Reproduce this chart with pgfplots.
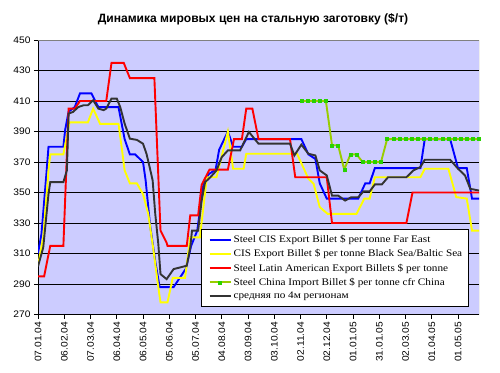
\documentclass[border=0pt]{standalone}
\usepackage{fontspec}
\setmainfont{Liberation Serif}
\setsansfont{Liberation Sans}
\newfontfamily\legfont[FakeStretch=1.12]{Liberation Serif}
\newfontfamily\tickfont[FakeStretch=1.08]{Liberation Sans}
\newfontfamily\titlefont{Liberation Sans}
\usepackage{pgfplots}
\pgfplotsset{compat=1.18}
\pgfplotsset{markline legend/.style={legend image code/.code={\path (-2.5bp,0bp); \draw[##1] (0bp,0bp) -- (21bp,0bp); \draw[##1] plot coordinates {(10.5bp,0bp)};}}}
\definecolor{plotbg}{RGB}{204,204,255}
\definecolor{cisblue}{RGB}{0,0,255}
\definecolor{cisyellow}{RGB}{255,255,0}
\definecolor{latred}{RGB}{255,0,0}
\definecolor{chgreen}{RGB}{153,204,0}
\definecolor{chmark}{RGB}{40,210,0}
\definecolor{avggray}{RGB}{51,51,51}
\begin{document}
\begin{tikzpicture}[x=1bp,y=1bp]
\path (0,0) rectangle (500,372);
\node[font=\titlefont\bfseries\fontsize{12.1}{14}\selectfont, anchor=base] at (253,349.5) {Динамика мировых цен на стальную заготовку (\$/т)};
\begin{axis}[
  at={(38bp,57.5bp)}, anchor=south west,
  scale only axis, width=441bp, height=274.5bp,
  xmin=0, xmax=504, ymin=270, ymax=450,
  xtick={0,30,...,480},
  xticklabels={07.01.04,06.02.04,07.03.04,06.04.04,06.05.04,05.06.04,05.07.04,04.08.04,03.09.04,03.10.04,02.11.04,02.12.04,01.01.05,31.01.05,02.03.05,01.04.05,01.05.05},
  ytick={270,290,...,450},
  /pgf/number format/assume math mode=true,
  x tick label style={rotate=90, anchor=east},
  tick label style={font=\tickfont\fontsize{9.5}{11}\selectfont},
  tick align=outside, major tick length=4bp,
  major tick style={black, line width=0.8bp},
  axis x line*=bottom, axis y line*=left,
  axis line style={black, line width=0.8bp},
  ymajorgrids, grid style={black, line width=0.8bp},
  axis background/.style={fill=plotbg},
  legend style={name=lgd, at={(0.977,0.031)}, anchor=south east, fill=white, draw=none,
    font=\legfont\fontsize{10.05}{12}\selectfont, inner xsep=4.5bp, inner ysep=3.5bp, row sep=1.5bp,
    column sep=0bp},
  legend cell align=left,
  legend image code/.code={\path (-2.5bp,0bp); \draw[#1] (0bp,0bp) -- (21bp,0bp);},
]
\addplot[draw=cisblue, line width=1.9bp] coordinates {
(0,310) (4,323) (10,365) (12,380) (29,380) (31,391) (35,403) (42,406) (48,415) (61,415) (69,406) (92,406) (99,385) (105,375) (111,375) (120,370) (123,358) (128,329) (134,305) (139,288) (151,288) (155,288) (162,294) (169,300) (175,315) (182,325) (189,355) (195,362) (203,365) (207,378) (217,390) (223,380) (233,380) (238,385) (301,385) (309,375) (317,372) (322,356) (330,346) (366,346) (374,356) (379,356) (385,366) (437,366) (442,385) (471,385) (480,366) (490,366) (496,346) (504,346)};
\addlegendentry{Steel CIS Export Billet \$ per tonne Far East}
\addplot[draw=cisyellow, line width=1.9bp] coordinates {
(0,302) (6,320.6) (12,364.5) (14,375) (29,375) (36,396) (57,396) (63,405) (71,395) (92,395) (96,378) (99,364.5) (105,356) (113,356) (120,349) (126,336) (132,312) (137,290) (140,278) (148,278) (154,294) (168,294) (174,320.6) (185,320.6) (193,360) (204,360) (217,390) (223,365.6) (235,365.6) (238,375.4) (296,375.4) (303,366.7) (309,359) (315,355.7) (322,340.4) (331,336) (364,336) (373,346) (379,346) (385,360) (437,360) (442,365.6) (469,365.6) (478,347) (490,346) (496,325) (504,325)};
\addlegendentry{CIS Export Billet \$ per tonne Black Sea/Baltic Sea}
\addplot[draw=latred, line width=1.9bp] coordinates {
(0,295) (7,295) (14,315) (29,315) (35,405) (42,405) (48,410) (78,410) (84,435) (98,435) (105,425) (133,425) (140,325) (147,317) (148,315) (170,315) (174,335) (183,335) (187,355) (196,365) (217,365) (224,385) (233,385) (238,405) (245,405) (252,385) (288,385) (294,360) (330,360) (336,330) (421,330) (428,350) (504,350)};
\addlegendentry{Steel Latin American Export Billets \$ per tonne}
\addplot[draw=chgreen, line width=1.9bp, mark=square*, mark size=1.5bp, mark options={fill=chmark, draw=chmark, line width=0.4bp}, markline legend] coordinates {
(301,410) (308,410) (315,410) (322,410) (329,410) (336,381) (343,381) (350,365) (357,375) (364,375) (371,370) (378,370) (385,370) (392,370) (399,385) (406,385) (413,385) (420,385) (427,385) (434,385) (441,385) (448,385) (455,385) (462,385) (469,385) (476,385) (483,385) (490,385) (497,385) (504,385)};
\addlegendentry{Steel China Import Billet \$ per tonne cfr China}
\addplot[draw=avggray, line width=1.9bp] coordinates {
(0,301.5) (6,314) (12,349) (14,356.8) (29,356.8) (33,364.5) (35,401.8) (40,402.8) (46,406) (52,407.2) (57,407.2) (63,410.5) (69,405) (75,404) (78,405) (84,411.6) (90,411.6) (94,406) (99,395.2) (105,385.3) (113,384.5) (120,382) (124,375.4) (128,365.6) (131,358) (134,336) (137.5,316.2) (140,296.5) (147,293.2) (155,299.8) (162,300.8) (170,302) (174,314) (176,325) (183,325) (187,344.7) (191,356.8) (197,360) (204,364.5) (210,373.2) (217,377.6) (231,377.6) (241,389.7) (252,382) (288,382) (293,374.3) (301,381.4) (309,375.4) (317,374.3) (322,364.5) (330,361.2) (336,348) (343,348) (351,344.7) (358,346.9) (366,346.9) (372,350.7) (379,350.7) (385,355.3) (393,355.3) (400,360) (421,360) (429,364.5) (437,366.7) (442,371.5) (471,371.5) (480,365.6) (488,361.2) (494,352.4) (504,351.3)};
\addlegendentry{средняя по 4м регионам}
\draw[gray, line width=0.8bp] (rel axis cs:0,1) -- (rel axis cs:1,1) -- (rel axis cs:1,0);
\end{axis}
\draw[black, line width=0.8bp] (lgd.south west) rectangle (lgd.north east);
\end{tikzpicture}
\end{document}
